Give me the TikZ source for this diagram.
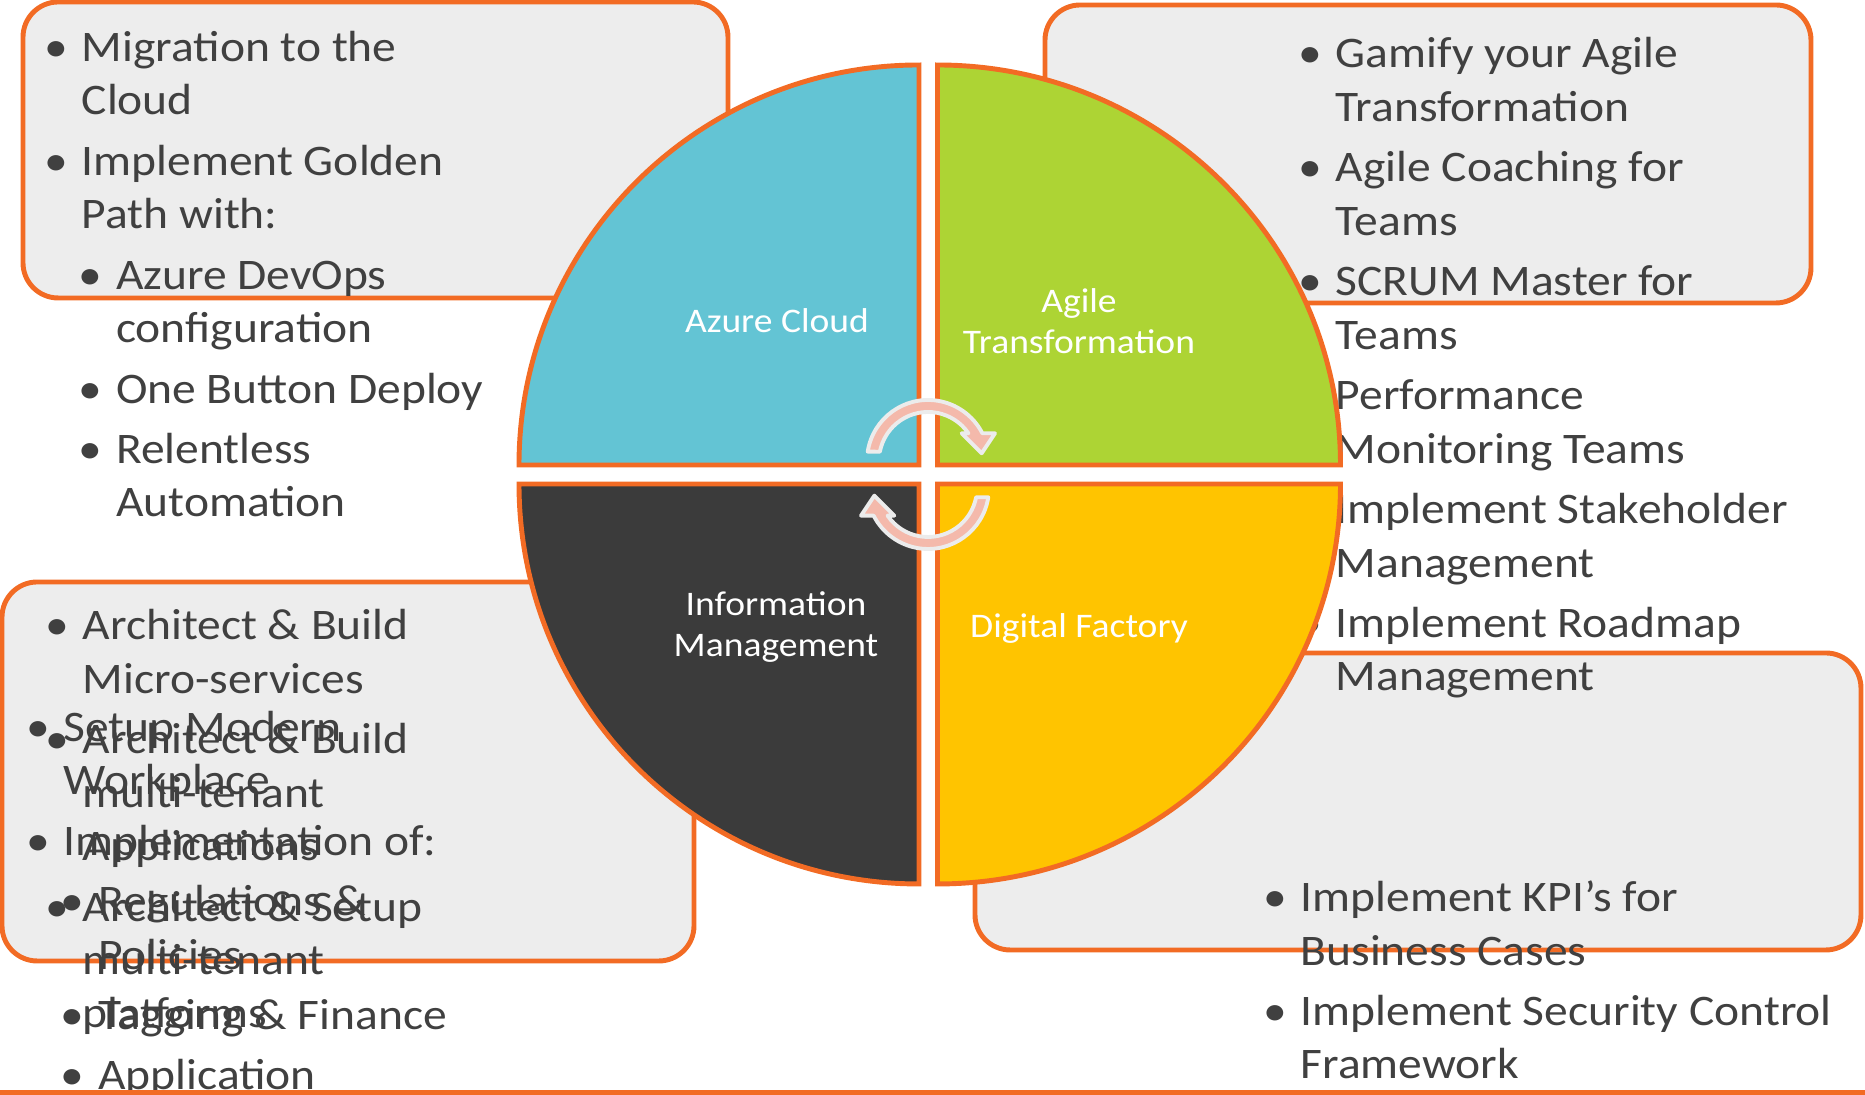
\documentclass[tikz,border=0pt]{standalone}
\usepackage{fontspec}
\setmainfont{Carlito}[FakeStretch=1.09]

\definecolor{ringorange}{HTML}{F26B24}
\definecolor{boxgrey}{HTML}{EDEDED}
\definecolor{textgrey}{HTML}{404040}
\definecolor{azurecyan}{HTML}{63C4D4}
\definecolor{agilegreen}{HTML}{ADD434}
\definecolor{infodark}{HTML}{3B3B3B}
\definecolor{factoryyellow}{HTML}{FFC400}
\definecolor{arrowpink}{HTML}{F4B9AB}
\definecolor{arrowrim}{HTML}{ECECEC}

\newcommand\bul{\llap{•\hspace{3.9pt}}}
\newcommand\subin{\hspace*{9.8pt}}

\tikzset{
  infobox/.style={draw=ringorange, fill=boxgrey, line width=1.4pt, rounded corners=10pt},
  quarter/.style={draw=ringorange, line width=1.4pt},
  itemtext/.style={anchor=base west, inner sep=0pt, align=left, text=textgrey,
    font=\fontsize{12.4}{15.2}\selectfont},
  quartertext/.style={anchor=base, inner sep=0pt, align=center, text=white,
    font=\fontsize{9.8}{11.7}\selectfont},
  cyclearrow/.pic={
    \filldraw[fill=arrowpink, draw=arrowrim, line width=1.1pt, line join=round]
      (171.2:61) arc[start angle=171.2, end angle=27, radius=61]
      -- (67,27.7) -- (53.7,7.7) -- (33.7,27.7)
      -- (34.4:49) arc[start angle=34.4, end angle=169.1, radius=49] -- cycle;
  }
}

\begin{document}
\begin{tikzpicture}[x=0.01cm, y=0.01cm]
\useasboundingbox (0,0) rectangle (1865,1095);

% boxes behind the ring
\draw[infobox] (23,797) rectangle (728,1093);
\draw[infobox] (1045,792) rectangle (1811,1090);
\draw[infobox] (2,134) rectangle (694,513);
\draw[infobox] (975,145) rectangle (1861,442);

% bullet texts (placed at the baseline of their last line)
\node[itemtext] (cloudtxt) at (81,578) {\bul Migration to the\\ Cloud\\[2pt]
  \bul Implement Golden\\ Path with:\\[2pt]
  \subin\bul Azure DevOps\\ \subin configuration\\[2pt]
  \subin\bul One Button Deploy\\[2pt]
  \subin\bul Relentless\\ \subin Automation};
\node[itemtext] (agiletxt) at (1335,404) {\bul Gamify your Agile\\ Transformation\\[2pt]
  \bul Agile Coaching for\\ Teams\\[2pt]
  \bul SCRUM Master for\\ Teams\\[2pt]
  \bul Performance\\ Monitoring Teams\\[2pt]
  \bul Implement Stakeholder\\ Management\\[2pt]
  \bul Implement Roadmap\\ Management};
\node[itemtext] (infotxta) at (82,67) {\bul Architect \& Build\\ Micro-services\\[2pt]
  \bul Architect \& Build\\ multi-tenant\\ Applications\\[2pt]
  \bul Architect \& Setup\\ multi-tenant\\ platforms};
\node[itemtext] (infotxtb) at (63,5) {\bul Setup Modern\\ Workplace\\[2pt]
  \bul Implementation of:\\[2pt]
  \subin\bul Regulations \&\\ \subin Policies\\[2pt]
  \subin\bul Tagging \& Finance\\[2pt]
  \subin\bul Application};
\node[itemtext] (factorytxt) at (1300,16) {\bul Implement KPI’s for\\ Business Cases\\[2pt]
  \bul Implement Security Control\\ Framework};

% the ring of four quarters
\filldraw[quarter, fill=azurecyan] (919,630) -- (519,630) arc[start angle=180, end angle=90, radius=400] -- cycle;
\filldraw[quarter, fill=agilegreen] (937.5,630) -- (937.5,1030) arc[start angle=90, end angle=0, x radius=403, y radius=400] -- cycle;
\filldraw[quarter, fill=infodark] (919,611) -- (519,611) arc[start angle=180, end angle=270, radius=400] -- cycle;
\filldraw[quarter, fill=factoryyellow] (937.5,611) -- (1340.5,611) arc[start angle=0, end angle=-90, x radius=403, y radius=400] -- cycle;

\node[quartertext] (azure) at (777,762) {Azure Cloud};
\node[quartertext] (agile) at (1079,741) {Agile\\Transformation};
\node[quartertext] (info) at (776,438) {Information\\Management};
\node[quartertext] (factory) at (1079,457) {Digital Factory};

% cycle arrows
\pic at (928,634) {cyclearrow};
\pic[rotate=180] at (928,607) {cyclearrow};

\draw[ringorange, line width=1.4pt] (0,2.5) -- (1865,2.5);
\end{tikzpicture}
\end{document}
